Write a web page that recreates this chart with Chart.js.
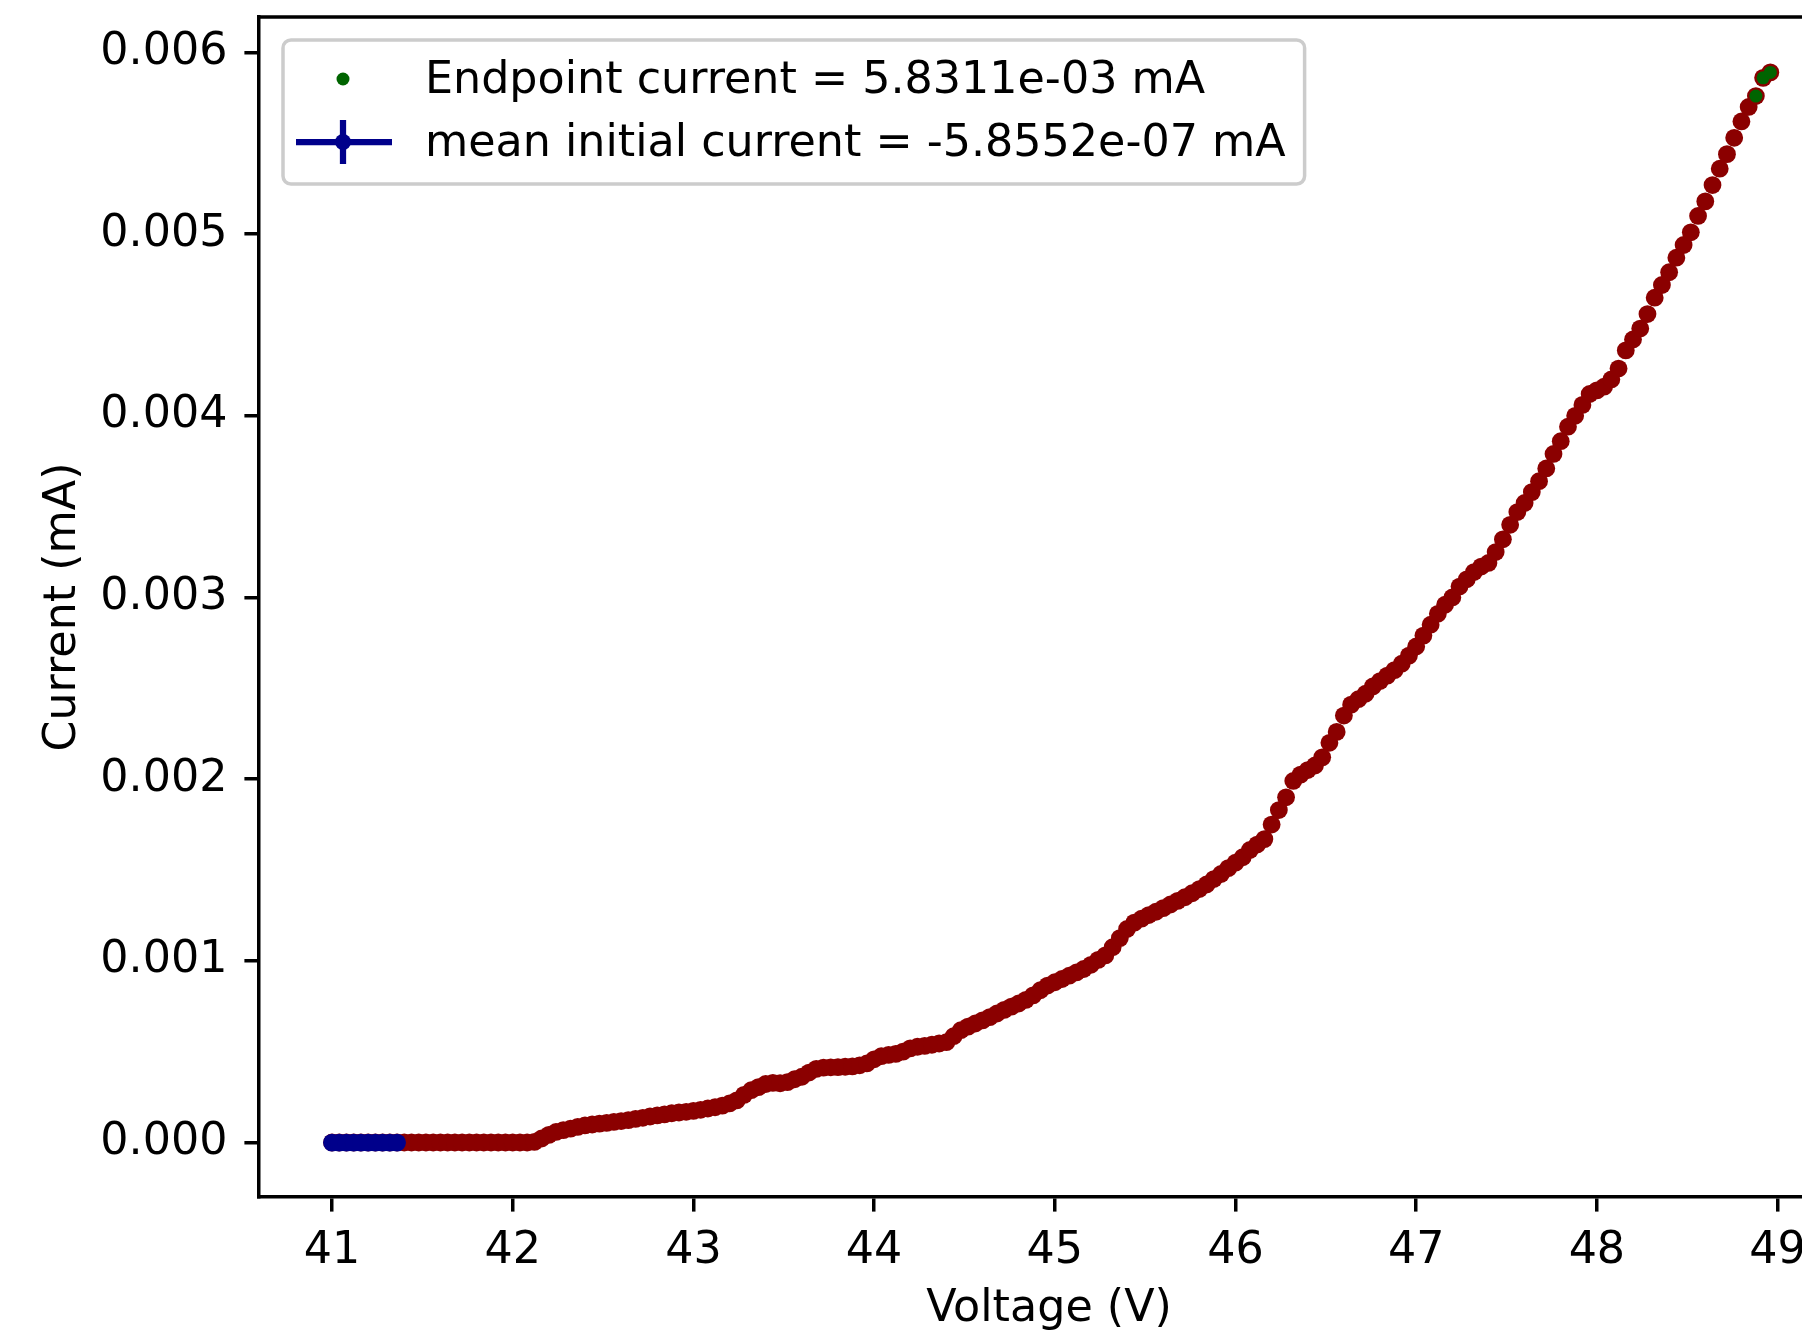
<!DOCTYPE html>
<html>
<head>
<meta charset="utf-8">
<script src="https://cdn.jsdelivr.net/npm/chart.js@4.4.1/dist/chart.umd.min.js"></script>
<style>
  html, body { margin: 0; padding: 0; background: #fff; overflow: hidden; }
  canvas { display: block; }
</style>
</head>
<body>
<canvas id="ivChart" width="1880" height="1332" style="width:1880px;height:1332px"></canvas>
<script>
// sweep voltage (V) and measured current (mA)
const voltage = [
  41.00, 41.04, 41.08, 41.12, 41.16, 41.20, 41.24, 41.28, 41.32, 41.36,
  41.40, 41.44, 41.48, 41.52, 41.56, 41.60, 41.64, 41.68, 41.72, 41.76,
  41.80, 41.84, 41.88, 41.92, 41.96, 42.00, 42.04, 42.08, 42.12, 42.16,
  42.20, 42.24, 42.28, 42.32, 42.36, 42.40, 42.44, 42.48, 42.52, 42.56,
  42.60, 42.64, 42.68, 42.72, 42.76, 42.80, 42.84, 42.88, 42.92, 42.96,
  43.00, 43.04, 43.08, 43.12, 43.16, 43.20, 43.24, 43.28, 43.32, 43.36,
  43.40, 43.44, 43.48, 43.52, 43.56, 43.60, 43.64, 43.68, 43.72, 43.76,
  43.80, 43.84, 43.88, 43.92, 43.96, 44.00, 44.04, 44.08, 44.12, 44.16,
  44.20, 44.24, 44.28, 44.32, 44.36, 44.40, 44.44, 44.48, 44.52, 44.56,
  44.60, 44.64, 44.68, 44.72, 44.76, 44.80, 44.84, 44.88, 44.92, 44.96,
  45.00, 45.04, 45.08, 45.12, 45.16, 45.20, 45.24, 45.28, 45.32, 45.36,
  45.40, 45.44, 45.48, 45.52, 45.56, 45.60, 45.64, 45.68, 45.72, 45.76,
  45.80, 45.84, 45.88, 45.92, 45.96, 46.00, 46.04, 46.08, 46.12, 46.16,
  46.20, 46.24, 46.28, 46.32, 46.36, 46.40, 46.44, 46.48, 46.52, 46.56,
  46.60, 46.64, 46.68, 46.72, 46.76, 46.80, 46.84, 46.88, 46.92, 46.96,
  47.00, 47.04, 47.08, 47.12, 47.16, 47.20, 47.24, 47.28, 47.32, 47.36,
  47.40, 47.44, 47.48, 47.52, 47.56, 47.60, 47.64, 47.68, 47.72, 47.76,
  47.80, 47.84, 47.88, 47.92, 47.96, 48.00, 48.04, 48.08, 48.12, 48.16,
  48.20, 48.24, 48.28, 48.32, 48.36, 48.40, 48.44, 48.48, 48.52, 48.56,
  48.60, 48.64, 48.68, 48.72, 48.76, 48.80, 48.84, 48.88, 48.92, 48.96
];
const current = [
  0, 0, 0, 0, 0, 0, 0, 0, 0, 0,
  0, 0, 0, 0, 0, 0, 0, 0, 0, 0,
  0, 0, 0, 0, 0, 0, 0, 0, 0.000003, 0.000022,
  0.000042, 0.000058, 0.000068, 0.000076, 0.000086, 0.000094, 0.000099, 0.000104, 0.000108, 0.000113,
  0.000118, 0.000123, 0.000130, 0.000136, 0.000143, 0.000149, 0.000155, 0.000161, 0.000165, 0.000169,
  0.000174, 0.000180, 0.000187, 0.000194, 0.000203, 0.000215, 0.000232, 0.000262, 0.000288, 0.000305,
  0.000322, 0.000328, 0.000326, 0.000332, 0.000348, 0.000362, 0.000385, 0.000405, 0.000412, 0.000414,
  0.000415, 0.000417, 0.000419, 0.000425, 0.000435, 0.000458, 0.000475, 0.000482, 0.000488, 0.000500,
  0.000518, 0.000527, 0.000532, 0.000538, 0.000545, 0.000552, 0.000585, 0.000618, 0.000638, 0.000655,
  0.000672, 0.000690, 0.000710, 0.000730, 0.000748, 0.000765, 0.000785, 0.000810, 0.000838, 0.000864,
  0.000882, 0.000900, 0.000918, 0.000936, 0.000955, 0.000978, 0.001005, 0.001030, 0.001075, 0.001125,
  0.001175, 0.001210, 0.001232, 0.001252, 0.001270, 0.001290, 0.001310, 0.001330, 0.001350, 0.001372,
  0.001395, 0.001420, 0.001450, 0.001478, 0.001510, 0.001540, 0.001570, 0.001610, 0.001640, 0.001670,
  0.001750, 0.001830, 0.001900, 0.001990, 0.002025, 0.002050, 0.002075, 0.002120, 0.002200, 0.002260,
  0.002350, 0.002410, 0.002440, 0.002470, 0.002510, 0.002540, 0.002570, 0.002600, 0.002635, 0.002680,
  0.002730, 0.002790, 0.002850, 0.002910, 0.002960, 0.003000, 0.003060, 0.003100, 0.003140, 0.003170,
  0.003190, 0.003250, 0.003320, 0.003400, 0.003470, 0.003520, 0.003580, 0.003640, 0.003710, 0.003790,
  0.003860, 0.003940, 0.004000, 0.004060, 0.004120, 0.004140, 0.004160, 0.004200, 0.004260, 0.004360,
  0.004420, 0.004480, 0.004560, 0.004650, 0.004720, 0.004790, 0.004870, 0.004940, 0.005010, 0.005100,
  0.005180, 0.005270, 0.005360, 0.005440, 0.005530, 0.005620, 0.005700, 0.005760, 0.005860, 0.005890
];

// initial (baseline) points, plotted at the mean initial current
const initialVoltage = [41.00, 41.04, 41.08, 41.12, 41.16, 41.20, 41.24, 41.28, 41.32, 41.36];
const initialCurrent = [-5.8552e-7, -5.8552e-7, -5.8552e-7, -5.8552e-7, -5.8552e-7,
                        -5.8552e-7, -5.8552e-7, -5.8552e-7, -5.8552e-7, -5.8552e-7];

// endpoint points
const endpointVoltage = [48.88, 48.92, 48.96];
const endpointCurrent = [0.00576, 0.00586, 0.00589];

const xTicks = [41, 42, 43, 44, 45, 46, 47, 48, 49];
const yTicks = [0, 0.001, 0.002, 0.003, 0.004, 0.005, 0.006];

const endpointLabel = 'Endpoint current = 5.8311e-03 mA';
const meanLabel = 'mean initial current = -5.8552e-07 mA';

const FONT = "'DejaVu Sans', sans-serif";
const FS = 44.4;
const LW = 3.5;

const toPoints = (xs, ys) => xs.map((x, i) => ({ x: x, y: ys[i] }));

// top/right spines + matplotlib style legend
const frameAndLegend = {
    id: 'frameAndLegend',
    afterDraw(chart) {
        const { ctx, chartArea: a } = chart;
        ctx.save();
        ctx.strokeStyle = '#000';
        ctx.lineWidth = LW;
        ctx.lineCap = 'square';
        ctx.beginPath();
        ctx.moveTo(a.left, a.top);
        ctx.lineTo(a.right, a.top);
        ctx.lineTo(a.right, a.bottom);
        ctx.stroke();

        const items = chart.data.datasets.filter(d => d.legendKind);
        ctx.font = FS + 'px ' + FONT;
        const textW = Math.max(...items.map(d => ctx.measureText(d.label).width));
        const lx = a.left + 24, ly = a.top + 23;
        const w = 142 + textW + 19, h = 144;

        ctx.beginPath();
        ctx.roundRect(lx, ly, w, h, 8);
        ctx.fillStyle = 'rgba(255,255,255,0.8)';
        ctx.fill();
        ctx.strokeStyle = '#cccccc';
        ctx.lineWidth = LW;
        ctx.stroke();

        items.forEach((d, i) => {
            const cy = ly + 39 + i * 63;
            const hx = lx + 60;
            if (d.legendKind === 'errorbar') {
                ctx.strokeStyle = d.borderColor;
                ctx.lineWidth = 6.25;
                ctx.lineCap = 'butt';
                ctx.beginPath();
                ctx.moveTo(lx + 13, cy);
                ctx.lineTo(lx + 109, cy);
                ctx.moveTo(hx, cy - 22);
                ctx.lineTo(hx, cy + 22);
                ctx.stroke();
                ctx.beginPath();
                ctx.arc(hx, cy, 8, 0, Math.PI * 2);
                ctx.fillStyle = d.backgroundColor;
                ctx.fill();
            } else {
                ctx.beginPath();
                ctx.arc(hx, cy, d.pointRadius, 0, Math.PI * 2);
                ctx.fillStyle = d.backgroundColor;
                ctx.fill();
            }
            ctx.fillStyle = '#000';
            ctx.textAlign = 'left';
            ctx.textBaseline = 'alphabetic';
            ctx.fillText(d.label, lx + 142, cy + 14);
        });
        ctx.restore();
    }
};

const axisCommon = {
    border: { display: true, color: '#000', width: LW },
    grid: { drawOnChartArea: false, drawTicks: true, tickLength: 14.6, lineWidth: LW, color: '#000' },
};

new Chart(document.getElementById('ivChart'), {
    type: 'scatter',
    data: {
        datasets: [
            {
                label: endpointLabel,
                legendKind: 'dot',
                data: toPoints(endpointVoltage, endpointCurrent),
                backgroundColor: '#006400',
                pointRadius: 6.5,
                pointBorderWidth: 0,
                showLine: false
            },
            {
                label: meanLabel,
                legendKind: 'errorbar',
                data: toPoints(initialVoltage, initialCurrent),
                backgroundColor: '#00008b',
                borderColor: '#00008b',
                borderWidth: 6.25,
                pointRadius: 8.9,
                pointBorderWidth: 0,
                showLine: true
            },
            {
                label: 'data',
                data: toPoints(voltage, current),
                backgroundColor: '#8b0000',
                pointRadius: 8.9,
                pointBorderWidth: 0,
                showLine: false
            }
        ]
    },
    options: {
        responsive: false,
        animation: false,
        devicePixelRatio: 1,
        layout: { padding: { left: 0, top: 17, right: 41, bottom: 0 } },
        plugins: {
            legend: { display: false },
            tooltip: { enabled: false }
        },
        scales: {
            x: {
                ...axisCommon,
                type: 'linear',
                min: 40.596,
                max: 49.34,
                afterBuildTicks: s => { s.ticks = xTicks.map(v => ({ value: v })); },
                afterFit: s => { s.height = 135; s.paddingLeft = 0; s.paddingRight = 0; },
                ticks: {
                    autoSkip: false,
                    maxRotation: 0,
                    padding: 13,
                    color: '#000',
                    font: { family: FONT, size: FS },
                    callback: v => String(v)
                },
                title: {
                    display: true,
                    text: 'Voltage (V)',
                    color: '#000',
                    font: { family: FONT, size: FS, lineHeight: 1 },
                    padding: { top: 0, bottom: 0 }
                }
            },
            y: {
                ...axisCommon,
                type: 'linear',
                min: -0.0003,
                max: 0.006195,
                afterBuildTicks: s => { s.ticks = yTicks.map(v => ({ value: v })); },
                afterFit: s => { s.width = 259; s.paddingTop = 0; s.paddingBottom = 0; },
                ticks: {
                    autoSkip: false,
                    padding: 17,
                    color: '#000',
                    font: { family: FONT, size: FS },
                    callback: v => v.toFixed(3)
                },
                title: {
                    display: true,
                    text: 'Current (mA)',
                    color: '#000',
                    font: { family: FONT, size: FS, lineHeight: 1 },
                    padding: { top: 41, bottom: 0 }
                }
            }
        }
    },
    plugins: [frameAndLegend]
});
</script>
</body>
</html>
